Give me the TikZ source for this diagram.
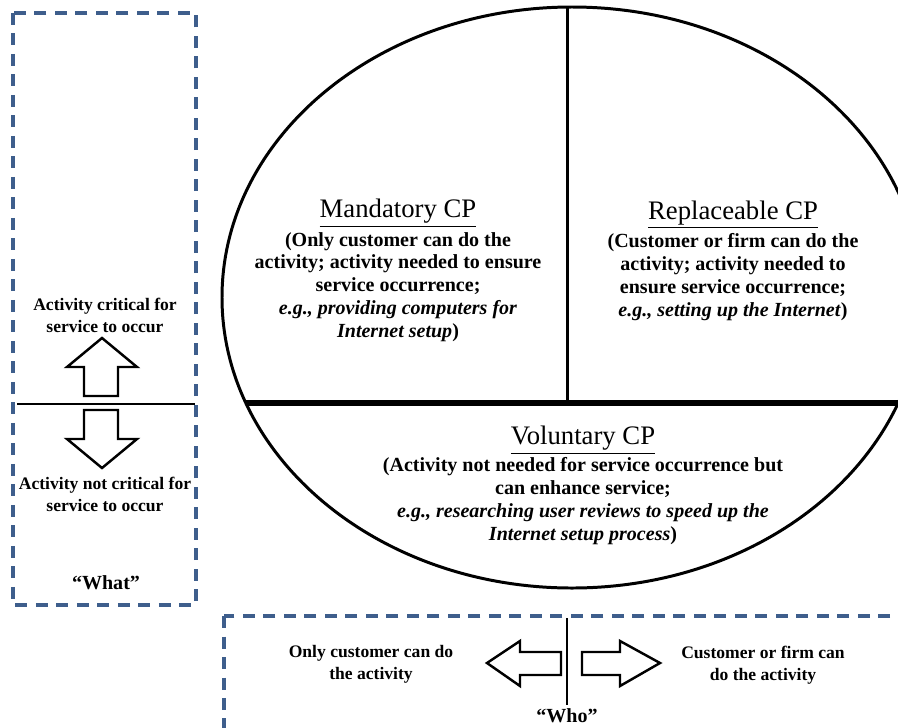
\documentclass[tikz,border=0pt]{standalone}
\usepackage{fontspec}
\setmainfont{Liberation Serif}
\usepackage{xcolor}
\usetikzlibrary{positioning,calc}
\definecolor{boxblue}{RGB}{62,94,140}

\begin{document}
\begin{tikzpicture}[x=0.02cm, y=-0.02cm]
    \tikzset{dashbox/.style={draw=boxblue, line width=2.3pt, dash pattern=on 0.24cm off 0.17cm},
             blockarrow/.style={draw, line width=1.4pt, line join=miter, fill=white},
             head/.style={font=\fontsize{15.2}{18}\selectfont, inner sep=0pt},
             body/.style={font=\fontsize{11.4}{13}\selectfont\bfseries, align=center, inner sep=0pt},
             side/.style={font=\fontsize{10}{12.5}\selectfont\bfseries, align=center, inner sep=0pt},
             tag/.style={font=\fontsize{11.4}{13}\selectfont\bfseries, inner sep=0pt}}
    \useasboundingbox (0,0) rectangle (898,727);
    \clip (0,0) rectangle (898,727);
    % the three kinds of CP
    \draw[line width=1.7pt] (572,297.5) ellipse [x radius=350, y radius=290.5];
    \draw[line width=1.7pt] (567,8) -- (567,403);
    \draw[line width=3.4pt] (246,403) -- (898,403);
    \node[head] (mand) at (398,213) {\underline{Mandatory CP}};
    \node[body] (mandtxt) at (398,287) {(Only customer can do the\\activity; activity needed to ensure\\service occurrence;\\\textit{e.g., providing computers for}\\\textit{Internet setup})};
    \node[head] (repl) at (733,215) {\underline{Replaceable CP}};
    \node[body] (repltxt) at (733,277) {(Customer or firm can do the\\activity; activity needed to\\ensure service occurrence;\\\textit{e.g., setting up the Internet})};
    \node[head] (vol) at (583,440) {\underline{Voluntary CP}};
    \node[body] (voltxt) at (583,501) {(Activity not needed for service occurrence but\\can enhance service;\\\textit{e.g., researching user reviews to speed up the}\\\textit{Internet setup process})};
    % "what" axis
    \draw[dashbox] (13,13) rectangle (196,605);
    \draw[line width=0.8pt] (17,404) -- (195,404);
    \draw[blockarrow] (84,396) -- (84,367) -- (67,367) -- (102,338) -- (137,367) -- (118,367) -- (118,396) -- cycle;
    \draw[blockarrow] (84,410) -- (84,439) -- (67,439) -- (102,468) -- (137,439) -- (118,439) -- (118,410) -- cycle;
    \node[side] (crit) at (105,315) {Activity critical for\\service to occur};
    \node[side] (notcrit) at (105,494) {Activity not critical for\\service to occur};
    \node[tag] (what) at (106,583) {``What''};
    % "who" axis
    \draw[dashbox] (224,616) rectangle (920,745);
    \draw[line width=0.8pt] (567,618) -- (567,705);
    \draw[blockarrow] (561,652) -- (520,652) -- (520,641) -- (487,663) -- (520,686) -- (520,675) -- (561,675) -- cycle;
    \draw[blockarrow] (582,652) -- (620,652) -- (620,641) -- (660,663) -- (620,686) -- (620,675) -- (582,675) -- cycle;
    \node[side] (only) at (371,664) {Only customer can do\\the activity};
    \node[side] (either) at (763,665) {Customer or firm can\\do the activity};
    \node[tag] (who) at (567,716) {``Who''};
\end{tikzpicture}
\end{document}
